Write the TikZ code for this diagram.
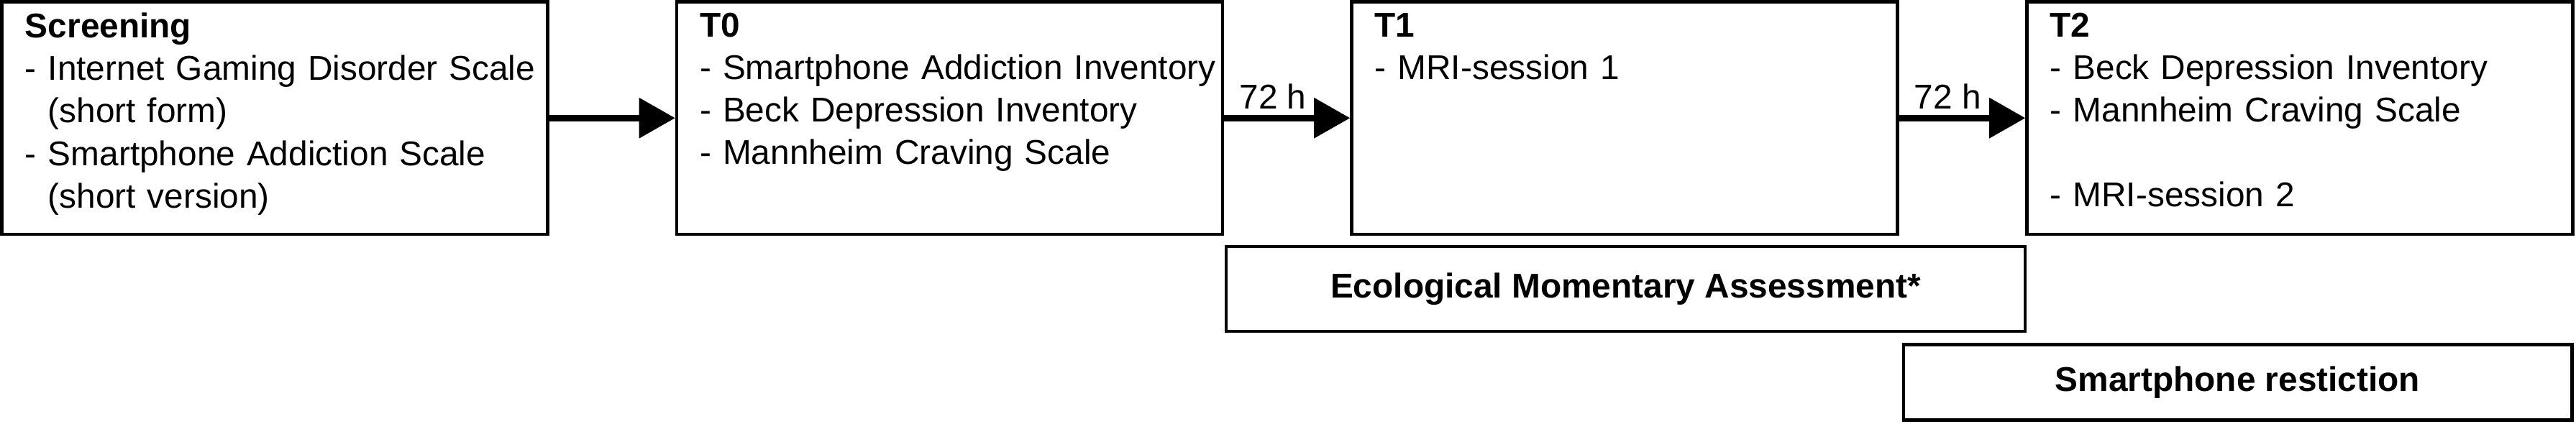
\documentclass[tikz,border=0pt]{standalone}
\usepackage{fontspec}
\setmainfont{Liberation Sans}
\usetikzlibrary{arrows.meta}
\tikzset{
  stage/.style={draw, line width=1.4pt, minimum width=7.59cm, minimum height=3.235cm, inner sep=0pt},
  band/.style={draw, line width=1.4pt, inner sep=0pt, font=\fontsize{13.6}{16.8}\selectfont\bfseries},
  items/.style={anchor=north west, inner sep=0pt, text width=7.2cm, align=left, font=\fontsize{13.6}{16.8}\selectfont},
  flow/.style={line width=0.09cm, -{Triangle[length=0.5cm, width=0.57cm, line width=0pt]}},
  hours/.style={anchor=base west, inner sep=0pt, xshift=0.165cm, yshift=0.125cm, font=\fontsize{13.6}{16.8}\selectfont}
}
\begin{document}
\begin{tikzpicture}
      \useasboundingbox (0,0) rectangle (35.82,-5.9);

      \node[stage] (screen) at (3.8225,-1.6425) {};
      \node[stage] (t0) at (13.205,-1.6425) {};
      \node[stage] (t1) at (22.59,-1.6425) {};
      \node[stage] (t2) at (31.98,-1.6425) {};

      \node[items] (screentext) at ([xshift=0.34cm,yshift=-0.175cm]screen.north west)
        {\textbf{Screening}\\- Internet Gaming Disorder Scale\\\phantom{-}~(short form)\\- Smartphone Addiction Scale\\\phantom{-}~(short version)};
      \node[items] (t0text) at ([xshift=0.34cm,yshift=-0.175cm]t0.north west)
        {\textbf{T0}\\- Smartphone Addiction Inventory\\- Beck Depression Inventory\\- Mannheim Craving Scale};
      \node[items] (t1text) at ([xshift=0.34cm,yshift=-0.175cm]t1.north west)
        {\textbf{T1}\\- MRI-session 1};
      \node[items] (t2text) at ([xshift=0.34cm,yshift=-0.175cm]t2.north west)
        {\textbf{T2}\\- Beck Depression Inventory\\- Mannheim Craving Scale\\[\baselineskip]- MRI-session 2};

      \draw[flow] (screen) -- (t0);
      \draw[flow] (t0) -- node[hours, pos=0] (gap1) {72 h} (t1);
      \draw[flow] (t1) -- node[hours, pos=0] (gap2) {72 h} (t2);

      \node[band, minimum width=11.11cm, minimum height=1.18cm] (ema) at (22.605,-4.02) {Ecological Momentary Assessment*};
      \node[band, minimum width=9.29cm, minimum height=1.055cm] (phone) at (31.115,-5.32) {Smartphone restiction};
\end{tikzpicture}
\end{document}
